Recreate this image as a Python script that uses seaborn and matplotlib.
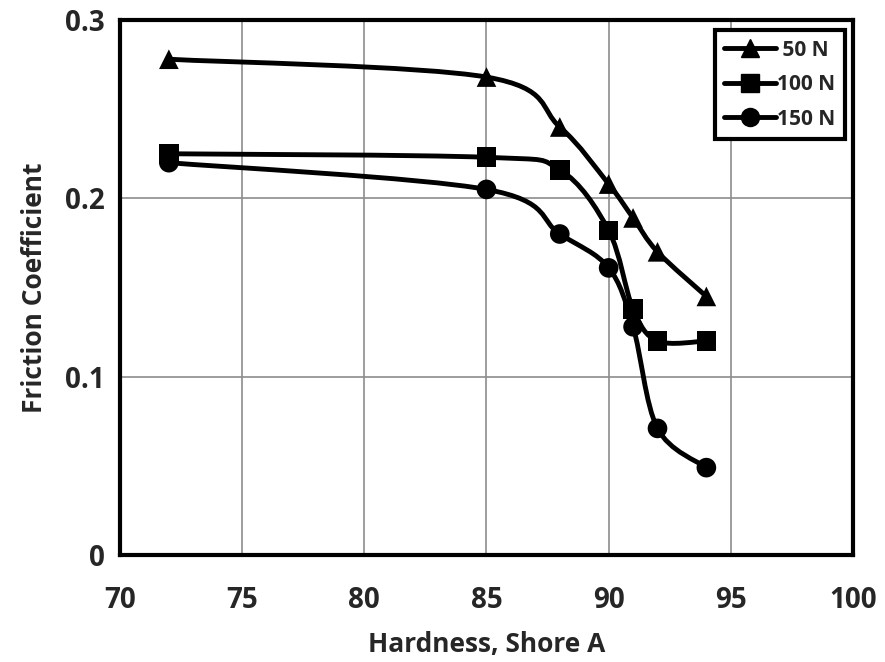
import numpy as np
import pandas as pd
import seaborn as sns
import matplotlib.pyplot as plt
from matplotlib.path import Path
from matplotlib.patches import PathPatch
from matplotlib.lines import Line2D

# values
hardness = [72, 85, 88, 90, 91, 92, 94]
mu_50 = [0.278, 0.268, 0.240, 0.208, 0.189, 0.170, 0.145]
mu_100 = [0.225, 0.223, 0.216, 0.182, 0.138, 0.120, 0.120]
mu_150 = [0.220, 0.205, 0.180, 0.161, 0.128, 0.071, 0.049]
loads = ["50 N", "100 N", "150 N"]
markers = ["^", "s", "o"]

df = pd.DataFrame({
    "hardness": hardness * 3,
    "mu": mu_50 + mu_100 + mu_150,
    "load": [l for l in loads for _ in hardness],
})

sns.set_theme(style="white")
plt.rcParams["font.family"] = ["Open Sans", "DejaVu Sans"]
plt.rcParams["font.weight"] = "bold"

fig = plt.figure(figsize=(8.85, 6.62), dpi=100)
ax = fig.add_axes([0.1356, 0.1616, 0.8282, 0.8082])


def smooth_path(x, y):
    # excel-like smoothed line: cubic bezier with catmull-rom control points
    pts = np.column_stack([x, y]).astype(float)
    n = len(pts)
    verts = [pts[0]]
    codes = [Path.MOVETO]
    for i in range(n - 1):
        p0 = pts[i - 1] if i > 0 else pts[i]
        p1, p2 = pts[i], pts[i + 1]
        p3 = pts[i + 2] if i + 2 < n else pts[i + 1]
        c1 = p1 + (p2 - p0) / 6
        c2 = p2 - (p3 - p1) / 6
        verts += [c1, c2, p2]
        codes += [Path.CURVE4] * 3
    return Path(verts, codes)


for load in loads:
    sub = df[df["load"] == load]
    ax.add_patch(PathPatch(smooth_path(sub["hardness"], sub["mu"]),
                           facecolor="none", edgecolor="black", lw=3.5, zorder=3))

sns.scatterplot(data=df, x="hardness", y="mu", style="load", markers=markers,
                style_order=loads, color="black", s=200, edgecolor="black",
                linewidth=0, ax=ax, zorder=4, legend=False)

ax.set_xlim(70, 100)
ax.set_ylim(0, 0.3)
ax.set_xticks(range(70, 101, 5))
ax.set_yticks([0, 0.1, 0.2, 0.3])
ax.set_yticklabels(["0", "0.1", "0.2", "0.3"])
ax.grid(True, color="#8c8c8c", lw=1.2)
ax.tick_params(axis="x", length=0, labelsize=20, pad=22)
ax.tick_params(axis="y", length=0, labelsize=20, pad=11)
for lab in ax.get_xticklabels() + ax.get_yticklabels():
    lab.set_fontweight("bold")
for sp in ax.spines.values():
    sp.set_color("black")
    sp.set_linewidth(3)

ax.set_xlabel("Hardness, Shore A", fontsize=19, fontweight="bold", labelpad=12)
ax.set_ylabel("Friction Coefficient", fontsize=19, fontweight="bold", labelpad=12)

handles = [Line2D([0], [0], color="black", lw=3.5, marker=m, markersize=13)
           for m in markers]
leg = ax.legend(handles, [" 50 N", "100 N", "150 N"], loc="upper right",
                bbox_to_anchor=(0.989, 0.981), borderaxespad=0,
                frameon=True, fancybox=False, framealpha=1, handlelength=2.5,
                handletextpad=0.05, borderpad=0.45, labelspacing=0.65,
                prop={"weight": "bold", "size": 15})
leg.get_frame().set_edgecolor("black")
leg.get_frame().set_linewidth(3)

fig.savefig("out.png", dpi=100)
